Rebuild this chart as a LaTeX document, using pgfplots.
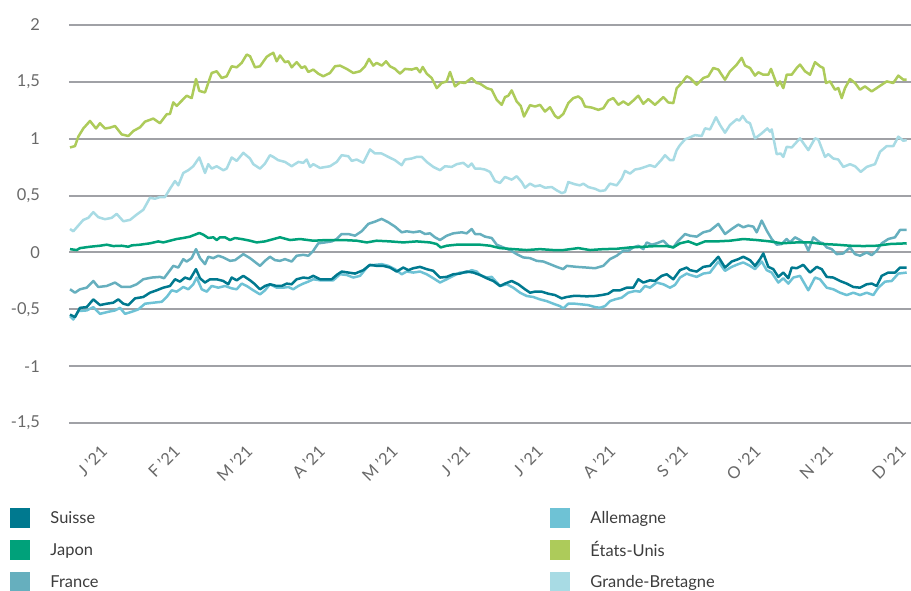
\documentclass[border=0pt]{standalone}
\usepackage{pgfplots}
\pgfplotsset{compat=1.18}
\usepackage{fontspec}
\setmainfont{Lato}
\definecolor{cSuisse}{RGB}{0,121,143}
\definecolor{cJapon}{RGB}{0,161,122}
\definecolor{cFrance}{RGB}{102,175,190}
\definecolor{cAll}{RGB}{110,194,213}
\definecolor{cUS}{RGB}{173,203,90}
\definecolor{cGB}{RGB}{168,219,228}
\definecolor{gridc}{RGB}{160,161,166}
\definecolor{tickc}{RGB}{105,105,105}
\definecolor{legc}{RGB}{60,60,60}
\begin{document}
\begin{tikzpicture}
\useasboundingbox (-69bp,-168bp) rectangle (842bp,423bp);
\begin{axis}[
  at={(0,0)}, anchor=south west,
  scale only axis, width=842bp, height=398bp,
  xmin=69, xmax=911, ymin=-1.5, ymax=2,
  axis line style={draw=none},
  major tick length=0pt,
  ytick={-1.5,-1,-0.5,0,0.5,1,1.5,2},
  yticklabels={{-1,5},{-1},{-0,5},{0},{0,5},{1},{1,5},{2}},
  ymajorgrids,
  grid style={gridc, line width=2bp},
  xtick={99.5,172.1,244.7,317.3,389.9,462.5,535.1,607.7,680.3,752.9,825.5,898.1},
  xticklabels={J ’21,F ’21,M ’21,A ’21,M ’21,J ’21,J ’21,A ’21,S ’21,O ’21,N ’21,D ’21},
  xticklabel style={rotate=45, anchor=north east, inner sep=0pt},
  xticklabel shift=21bp,
  yticklabel style={anchor=east, inner sep=0pt, xshift=-29bp},
  ticklabel style={font=\fontsize{16.5}{19}\selectfont, text=tickc},
  every axis plot/.append style={line width=2.5bp, line join=round},
  legend columns=2,
  legend cell align=left,
  legend image code/.code={\fill[#1, draw=none] (0bp,-10bp) rectangle (20bp,10bp);},
  legend style={at={(-0.0695,-0.2136)}, anchor=north west, draw=none, fill=none,
    inner sep=0pt, outer sep=0pt, row sep=12bp, column sep=20bp,
    font=\fontsize{16.5}{19}\selectfont, text=legc, nodes={inner sep=0pt}},
]
% Grande-Bretagne
\addplot[cGB, forget plot] table {
70 0.206
73.3 0.186
78.3 0.236
83.3 0.286
88.3 0.304
93.3 0.354
98.3 0.31
105 0.292
111.7 0.304
116.7 0.339
123.3 0.274
130 0.286
136.7 0.333
143.3 0.375
150 0.481
155 0.472
160 0.487
165 0.487
170 0.56
175 0.628
178.3 0.59
183.3 0.699
188.3 0.723
193.3 0.758
199.3 0.835
205 0.699
208.3 0.776
211.7 0.737
216.7 0.758
223.3 0.723
226.7 0.737
231.7 0.835
236.7 0.805
243.3 0.876
250 0.826
253.3 0.776
260 0.737
265 0.782
270 0.855
273.3 0.84
278.3 0.811
285 0.796
291.7 0.758
298.3 0.796
303.3 0.788
306.7 0.817
310 0.752
313.3 0.776
320 0.743
330 0.758
336.7 0.796
341.7 0.855
348.3 0.846
351.7 0.805
356.7 0.817
363.3 0.788
370 0.906
375 0.87
381.7 0.87
388.3 0.84
395 0.811
401.7 0.767
405 0.817
411.7 0.826
416.7 0.84
421.7 0.84
426.7 0.796
433.3 0.752
440 0.723
445 0.758
451.7 0.752
456.7 0.776
463.3 0.788
468.3 0.752
471.7 0.782
475 0.737
480 0.737
485 0.729
490 0.708
495 0.628
500 0.611
505 0.664
511.7 0.64
516.7 0.67
521.7 0.619
525 0.569
530 0.605
535 0.581
540 0.59
545 0.569
551.7 0.575
556.7 0.546
561.7 0.522
565 0.531
568.3 0.619
575 0.599
580 0.59
583.3 0.605
588.3 0.575
595 0.56
600 0.54
605 0.546
610 0.605
616.7 0.59
621.7 0.649
625 0.717
630 0.693
635 0.729
640 0.737
645 0.752
650 0.767
655 0.752
661.7 0.817
665 0.855
670 0.811
673.3 0.811
676.7 0.9
680 0.944
685 0.994
690 1.012
695 1.032
701.7 1.024
705 1.091
710 1.082
716 1.189
720 1.121
725 1.053
730 1.121
736.7 1.171
739.3 1.159
742.7 1.2
746.7 1.15
750 1.136
755 1.003
761.7 1.047
767.3 1.091
770 1.062
771.7 1.082
776.7 0.864
780.7 0.87
783.3 0.84
786.7 0.929
791.7 0.923
800 1.003
808.3 0.9
815 1.003
818.3 0.994
825 0.84
828.3 0.864
833.3 0.826
838.3 0.817
843.3 0.752
850 0.776
855 0.758
860.7 0.708
866.7 0.752
871.7 0.767
875 0.776
880 0.885
886.7 0.935
893.3 0.935
898.3 1.018
903.3 0.982
906.7 0.988
};
% Etats-Unis
\addplot[cUS, forget plot] table {
70 0.923
75 0.935
78.3 1.018
83.3 1.09
90 1.156
96 1.09
100 1.136
105 1.09
110 1.097
115 1.112
121.7 1.038
128.3 1.024
133.3 1.068
140 1.10
145 1.15
153.3 1.177
160 1.136
166.7 1.215
170 1.218
173.3 1.32
176.7 1.289
186.7 1.378
191.7 1.357
196 1.525
199.3 1.42
205 1.407
211.7 1.578
216.7 1.593
221.7 1.534
226.7 1.549
231.7 1.637
236.7 1.628
241.7 1.667
246.7 1.74
250 1.726
255 1.628
260 1.637
266.7 1.72
270 1.74
273.3 1.755
276.7 1.681
280 1.732
285 1.673
288.3 1.681
291.7 1.628
296.7 1.673
301.7 1.622
305 1.637
308.3 1.587
313.3 1.608
318.3 1.572
323.3 1.549
330 1.578
335 1.637
340 1.643
346.7 1.614
353.3 1.578
360 1.593
365 1.637
369 1.702
373.3 1.643
376.7 1.667
381.7 1.643
386 1.681
390 1.637
395 1.614
400 1.572
405 1.614
411.7 1.608
416.7 1.622
420 1.584
422.7 1.631
426.7 1.572
431.7 1.534
436.7 1.445
441.7 1.49
446.7 1.504
450 1.587
455 1.46
460 1.496
465 1.49
471.7 1.534
476.7 1.49
480 1.484
486.7 1.445
491.7 1.431
496.7 1.342
501.7 1.298
505 1.366
508.3 1.378
511.7 1.425
516.7 1.327
520.7 1.289
524 1.195
530 1.295
535 1.283
540 1.298
545 1.239
550 1.277
555 1.201
558.3 1.18
563.3 1.218
568.3 1.313
573.3 1.357
578.3 1.372
581.7 1.348
585 1.283
591.7 1.274
598.3 1.254
603.3 1.268
608.3 1.336
613.3 1.357
618.3 1.298
623.3 1.327
628.3 1.298
633.3 1.336
638.3 1.378
643.3 1.307
648.3 1.348
655 1.298
663.3 1.366
668.3 1.319
673.3 1.313
676.7 1.445
681.7 1.49
686.7 1.549
690 1.534
696.7 1.475
703.3 1.534
708.3 1.549
713.3 1.622
718.3 1.608
725 1.519
730 1.593
736.7 1.652
741.7 1.711
745 1.643
750 1.622
755 1.555
758.3 1.584
763.3 1.563
768.3 1.563
771 1.614
777.3 1.466
780 1.504
783.3 1.445
786.7 1.563
791.7 1.563
796.7 1.622
800 1.652
805 1.593
810 1.563
815 1.673
820 1.637
823.3 1.622
826 1.49
830 1.504
835 1.431
838.3 1.445
841.7 1.357
845 1.445
850 1.525
855 1.49
860 1.431
865 1.46
871.7 1.416
876.7 1.445
881.7 1.475
886.7 1.504
893.3 1.49
898.3 1.555
903.3 1.519
906.7 1.519
};
% France
\addplot[cFrance, forget plot] table {
70 -0.324
75 -0.354
80 -0.324
86.7 -0.31
93.3 -0.251
98.3 -0.304
106.7 -0.295
115 -0.265
121.7 -0.304
130 -0.304
136.7 -0.28
143.3 -0.236
151.7 -0.221
160 -0.215
164 -0.227
168.3 -0.177
173.3 -0.118
178.3 -0.133
183.3 -0.059
186.7 -0.08
191.7 -0.05
196 0.029
200 -0.05
205 -0.103
208.3 -0.038
213.3 -0.05
218.3 -0.029
223.3 -0.044
230 -0.074
235 -0.068
243.3 -0.015
250 -0.05
260 -0.118
265 -0.074
270 -0.038
275 -0.068
280 -0.074
285 -0.059
291.7 -0.08
296.7 -0.029
303.3 -0.021
308.3 -0.029
313.3 0.015
318.3 0.08
325 0.088
331.7 0.097
336.7 0.118
341.7 0.162
348.3 0.162
355 0.147
361.7 0.186
368.3 0.251
375 0.271
381.7 0.295
388.3 0.265
395 0.227
401.7 0.177
406.7 0.186
413.3 0.177
420 0.186
425 0.162
430 0.168
435 0.133
440 0.109
446.7 0.147
453.3 0.168
461.7 0.177
466.7 0.168
471.7 0.206
475 0.162
480 0.162
485 0.139
491.7 0.127
496.7 0.068
503.3 0.044
510 0.021
516.7 -0.015
523.3 -0.044
530 -0.05
536.7 -0.074
543.3 -0.08
550 -0.103
556.7 -0.127
563.3 -0.147
566.7 -0.118
576.7 -0.127
586.7 -0.133
595 -0.139
603.3 -0.118
610 -0.059
616.7 -0.029
623.3 0.015
628.3 0.015
633.3 0.044
638.3 0.059
643.3 0.029
646.7 0.088
651.7 0.068
656.7 0.08
663.3 0.103
668.3 0.059
673.3 0.044
678.3 0.103
685 0.162
690 0.147
696.7 0.139
703.3 0.177
710 0.192
718.3 0.251
725 0.162
731.7 0.206
738.3 0.245
743.3 0.221
748.3 0.236
753.3 0.227
756.7 0.177
761.7 0.28
766.7 0.192
771.7 0.118
776.7 0.068
781.7 0.074
786.7 0.118
790 0.088
795 0.133
800 0.109
805 0.08
808.3 0.015
813.3 0.133
820 0.088
823.3 0.08
826.7 0.044
831.7 0.029
836.7 -0.015
843.3 -0.009
850 0.044
855 -0.015
860 -0.029
866.7 0.0
871.7 -0.024
876.7 0.015
881.7 0.08
888.3 0.118
895 0.133
900 0.198
906.7 0.198
};
% Japon
\addplot[cJapon, forget plot] table {
70 0.029
76.7 0.021
80 0.038
90 0.05
100 0.059
106.7 0.068
113.3 0.056
121.7 0.059
128.3 0.05
131.7 0.062
140 0.068
150 0.08
158.3 0.097
163.3 0.088
170 0.103
176.7 0.118
183.3 0.127
190 0.139
199.3 0.171
203.3 0.156
208.3 0.127
213.3 0.133
216.7 0.109
220 0.133
225 0.133
230 0.109
235 0.127
243.3 0.115
250 0.103
256.7 0.088
265 0.097
270 0.109
280 0.133
290 0.109
300 0.118
313.3 0.103
326.7 0.109
343.3 0.109
356.7 0.103
366.7 0.088
376.7 0.103
390 0.097
403.3 0.088
416.7 0.097
430 0.088
436.7 0.074
440.7 0.044
446.7 0.059
456.7 0.068
470 0.068
480 0.068
490 0.059
500 0.038
513.3 0.029
526.7 0.021
540 0.029
553.3 0.021
563.3 0.021
578.3 0.038
590 0.021
603.3 0.029
616.7 0.032
630 0.044
643.3 0.05
656.7 0.056
666.7 0.056
673.3 0.044
680 0.08
688.3 0.097
696.7 0.068
705 0.097
716.7 0.097
730 0.103
743.3 0.118
756.7 0.109
770 0.097
781.7 0.08
796.7 0.088
810 0.088
823.3 0.074
836.7 0.068
850 0.059
863.3 0.056
876.7 0.059
890 0.074
906.7 0.08
};
% Allemagne
\addplot[cAll, forget plot] table {
70 -0.56
73.3 -0.59
78.3 -0.516
86.7 -0.51
93.3 -0.481
100 -0.54
108.3 -0.522
115 -0.51
120 -0.487
125 -0.54
131.7 -0.522
138.3 -0.501
145 -0.451
153.3 -0.442
161.7 -0.434
166.7 -0.392
171.7 -0.333
176.7 -0.345
183.3 -0.304
188.3 -0.324
193.3 -0.28
196.7 -0.221
201.7 -0.324
206.7 -0.345
211.7 -0.295
218.3 -0.31
225 -0.295
231.7 -0.316
236.7 -0.324
241.7 -0.274
246.7 -0.295
253.3 -0.333
260 -0.369
265 -0.333
270 -0.28
276.7 -0.31
283.3 -0.31
288.3 -0.304
293.3 -0.324
298.3 -0.295
303.3 -0.274
308.3 -0.257
313.3 -0.236
320 -0.245
328.3 -0.245
333.3 -0.245
340 -0.192
346.7 -0.198
353.3 -0.221
360 -0.206
368.3 -0.118
375 -0.109
381.7 -0.103
388.3 -0.118
395 -0.147
401.7 -0.192
406.7 -0.168
413.3 -0.177
420 -0.168
426.7 -0.192
435 -0.236
440 -0.265
446.7 -0.236
453.3 -0.206
460 -0.177
466.7 -0.177
471.7 -0.156
476.7 -0.168
480 -0.198
486.7 -0.221
491.7 -0.215
500 -0.295
506.7 -0.28
513.3 -0.31
520 -0.354
526.7 -0.383
533.3 -0.392
540 -0.413
546.7 -0.428
553.3 -0.451
560 -0.472
563.3 -0.493
568.3 -0.451
575 -0.451
581.7 -0.457
588.3 -0.463
595 -0.481
600 -0.487
605 -0.472
610 -0.428
615 -0.413
621.7 -0.398
628.3 -0.354
635 -0.339
640 -0.345
645 -0.295
650 -0.31
656.7 -0.265
663.3 -0.28
670 -0.31
675 -0.286
680 -0.221
686.7 -0.186
690 -0.198
696.7 -0.215
703.3 -0.186
710 -0.177
718.3 -0.08
725 -0.162
731.7 -0.127
738.3 -0.103
743.3 -0.088
750 -0.118
755 -0.147
761.7 -0.08
766.7 -0.156
771.7 -0.177
778.3 -0.265
783.3 -0.227
788.3 -0.274
793.3 -0.221
800 -0.206
808.3 -0.333
815 -0.221
820 -0.236
826.7 -0.31
833.3 -0.324
840 -0.354
846.7 -0.375
853.3 -0.354
860 -0.375
866.7 -0.354
873.3 -0.375
878.3 -0.31
885 -0.257
891.7 -0.251
898.3 -0.186
906.7 -0.177
};
% Suisse
\addplot[cSuisse, forget plot] table {
70 -0.546
75 -0.569
80 -0.487
86.7 -0.481
93.3 -0.413
100 -0.463
106.7 -0.451
113.3 -0.442
118.3 -0.413
123.3 -0.451
128.3 -0.463
135 -0.404
143.3 -0.392
150 -0.354
156.7 -0.333
163.3 -0.31
170 -0.295
175 -0.236
180 -0.257
185 -0.221
190 -0.236
196 -0.147
200 -0.227
205 -0.265
210 -0.236
216.7 -0.236
223.3 -0.251
228.3 -0.28
231.7 -0.221
236.7 -0.245
243.3 -0.206
250 -0.245
255 -0.28
260 -0.324
265 -0.295
270 -0.28
276.7 -0.295
281.7 -0.295
286.7 -0.274
291.7 -0.28
296.7 -0.236
303.3 -0.221
308.3 -0.227
313.3 -0.206
320 -0.236
326.7 -0.236
331.7 -0.236
336.7 -0.198
341.7 -0.168
348.3 -0.177
355 -0.186
363.3 -0.156
370 -0.109
376.7 -0.118
383.3 -0.118
390 -0.133
396.7 -0.168
403.3 -0.133
408.3 -0.156
413.3 -0.139
420 -0.127
426.7 -0.147
433.3 -0.162
440 -0.221
446.7 -0.215
453.3 -0.192
460 -0.186
466.7 -0.168
473.3 -0.177
480 -0.198
486.7 -0.227
493.3 -0.251
500 -0.295
505 -0.274
511.7 -0.251
518.3 -0.28
525 -0.324
530 -0.354
535 -0.345
541.7 -0.345
548.3 -0.363
555 -0.375
561.7 -0.404
566.7 -0.392
573.3 -0.383
580 -0.383
586.7 -0.386
595 -0.383
601.7 -0.375
608.3 -0.363
613.3 -0.333
620 -0.333
626.7 -0.31
633.3 -0.31
638.3 -0.236
643.3 -0.265
650 -0.245
655 -0.251
661.7 -0.206
666.7 -0.192
673.3 -0.236
680 -0.156
686.7 -0.133
690 -0.156
696.7 -0.168
703.3 -0.127
710 -0.118
718.3 -0.038
725 -0.133
731.7 -0.08
738.3 -0.059
743.3 -0.038
750 -0.068
755 -0.118
760 -0.059
763.3 -0.009
768.3 -0.127
773.3 -0.147
778.3 -0.215
783.3 -0.177
788.3 -0.227
791.7 -0.133
796.7 -0.139
803.3 -0.109
810 -0.177
816.7 -0.127
821.7 -0.147
826.7 -0.215
833.3 -0.221
840 -0.251
846.7 -0.274
853.3 -0.304
860 -0.31
866.7 -0.28
871.7 -0.274
876.7 -0.295
881.7 -0.206
888.3 -0.177
895 -0.177
900 -0.133
906.7 -0.133
};
\addlegendimage{color=cSuisse}\addlegendentry{\makebox[480bp][l]{Suisse}}
\addlegendimage{color=cAll}\addlegendentry{Allemagne}
\addlegendimage{color=cJapon}\addlegendentry{\makebox[480bp][l]{Japon}}
\addlegendimage{color=cUS}\addlegendentry{États-Unis}
\addlegendimage{color=cFrance}\addlegendentry{\makebox[480bp][l]{France}}
\addlegendimage{color=cGB}\addlegendentry{Grande-Bretagne}
\end{axis}
\end{tikzpicture}
\end{document}
